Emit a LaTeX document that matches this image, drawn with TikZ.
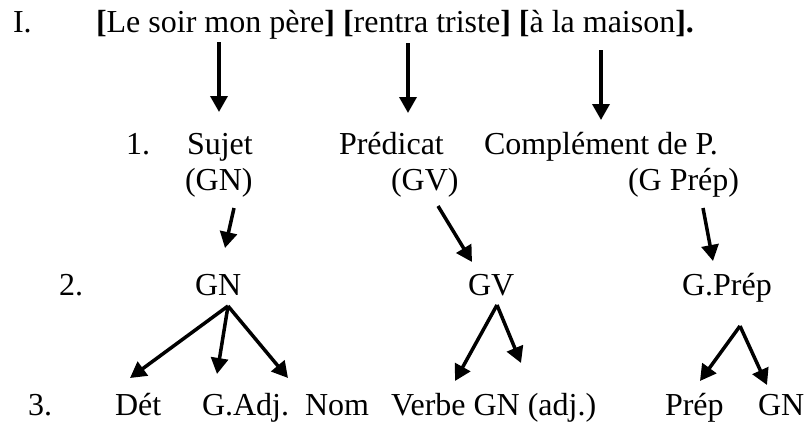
\documentclass[tikz,border=0pt]{standalone}
\usepackage{fontspec}
\setmainfont{Liberation Serif}
\usetikzlibrary{arrows.meta}
\begin{document}
\begin{tikzpicture}[x=1pt,y=-1pt,
  txt/.style={anchor=base west,inner sep=0pt,outer sep=0pt,font=\fontsize{32}{38}\selectfont},
  arr/.style={line width=3.5pt,-{Triangle[length=16pt,width=17pt]}}]
\useasboundingbox (0,0) rectangle (811,423);
% row I
\node[txt] (rI) at (13,32) {I.};
\node[txt] (phrase) at (96,32) {\textbf{[}Le soir mon père\textbf{]} \textbf{[}rentra triste\textbf{]} \textbf{[}à la maison\textbf{]}\textbf{.}};
% row 1
\node[txt] (r1) at (126,154) {1.};
\node[txt] (sujet) at (187,154) {Sujet};
\node[txt] (pred) at (339,154) {Prédicat};
\node[txt] (compl) at (484,154) {Complément de P.};
\node[txt] (gn1) at (185,190) {(GN)};
\node[txt] (gv1) at (391,190) {(GV)};
\node[txt] (gp1) at (628,190) {(G Prép)};
% row 2
\node[txt] (r2) at (59,295) {2.};
\node[txt] (gn2) at (195,295) {GN};
\node[txt] (gv2) at (468,295) {GV};
\node[txt] (gp2) at (682,295) {G.Prép};
% row 3
\node[txt] (r3) at (28,415) {3.};
\node[txt] (det) at (115,415) {Dét};
\node[txt] (gadj) at (202,415) {G.Adj.};
\node[txt] (nom) at (305,415) {Nom};
\node[txt] (verbe) at (391,415) {Verbe GN (adj.)};
\node[txt] (prep) at (665,415) {Prép};
\node[txt] (gn3) at (758,415) {GN};
% arrow end points
\coordinate (a1s) at (219,42);  \coordinate (a1e) at (219,112);
\coordinate (a2s) at (408,43);  \coordinate (a2e) at (408,113);
\coordinate (a3s) at (601,50);  \coordinate (a3e) at (601,120);
\coordinate (b1s) at (234,208); \coordinate (b1e) at (225,248);
\coordinate (b2s) at (438,206); \coordinate (b2e) at (472,262);
\coordinate (b3s) at (703,208); \coordinate (b3e) at (713,261);
\coordinate (fgn) at (228,306);
\coordinate (c1e) at (130,378); \coordinate (c2e) at (217,374); \coordinate (c3e) at (288,378);
\coordinate (fgv) at (497,305);
\coordinate (c4e) at (455,381); \coordinate (c5e) at (521,363);
\coordinate (fgp) at (740,326);
\coordinate (c6e) at (700,381); \coordinate (c7e) at (767,385);
% arrows
\draw[arr] (a1s) -- (a1e);
\draw[arr] (a2s) -- (a2e);
\draw[arr] (a3s) -- (a3e);
\draw[arr] (b1s) -- (b1e);
\draw[arr] (b2s) -- (b2e);
\draw[arr] (b3s) -- (b3e);
\draw[arr] (fgn) -- (c1e);
\draw[arr] (fgn) -- (c2e);
\draw[arr] (fgn) -- (c3e);
\draw[arr] (fgv) -- (c4e);
\draw[arr] (fgv) -- (c5e);
\draw[arr] (fgp) -- (c6e);
\draw[arr] (fgp) -- (c7e);
\end{tikzpicture}
\end{document}
